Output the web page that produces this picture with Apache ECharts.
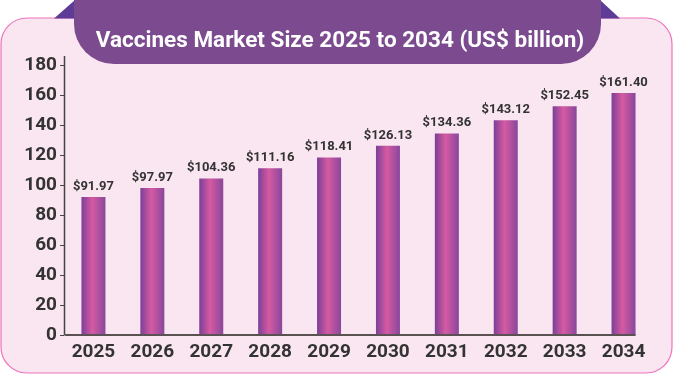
<!DOCTYPE html>
<html>
<head>
<meta charset="utf-8">
<script src="https://cdn.jsdelivr.net/npm/echarts@6/dist/echarts.min.js"></script>
<style>
html,body{margin:0;padding:0;background:#ffffff;}
#chart{width:680px;height:379px;}
</style>
</head>
<body>
<div id="chart"></div>
<script>
var years = ['2025','2026','2027','2028','2029','2030','2031','2032','2033','2034'];
var marketSize = [91.97, 97.97, 104.36, 111.16, 118.41, 126.13, 134.36, 143.12, 152.45, 161.40];
var yTicks = [0, 20, 40, 60, 80, 100, 120, 140, 160, 180];
var titleText = 'Vaccines Market Size 2025 to 2034 (US$ billion)';

var FONT = 'Roboto';
var chart = echarts.init(document.getElementById('chart'), null, {renderer: 'canvas'});

var barGradient = new echarts.graphic.LinearGradient(0, 0, 1, 0, [
  {offset: 0, color: '#7b3f98'},
  {offset: 0.45, color: '#d65aa2'},
  {offset: 1, color: '#88479c'}
]);

var option = {
  backgroundColor: '#ffffff',
  animation: false,
  title: {
    text: titleText,
    left: 'center',
    top: 25,
    textStyle: {color: '#ffffff', fontFamily: FONT, fontWeight: 'bold', fontSize: 22.5}
  },
  grid: {left: 64, right: 27, top: 65, bottom: 44, containLabel: false},
  xAxis: {
    type: 'category',
    data: years,
    axisLine: {show: false},
    axisTick: {show: false},
    axisLabel: {color: '#333333', fontFamily: FONT, fontWeight: 'bold', fontSize: 19, margin: 8}
  },
  yAxis: {
    type: 'value',
    min: 0,
    max: yTicks[yTicks.length - 1],
    interval: 20,
    splitLine: {show: false},
    axisLine: {show: false},
    axisTick: {show: true, length: 4, lineStyle: {color: '#444444', width: 1}},
    axisLabel: {color: '#333333', fontFamily: FONT, fontWeight: 'bold', fontSize: 19, margin: 7}
  },
  series: [{
    type: 'bar',
    data: marketSize,
    barWidth: 24,
    itemStyle: {color: barGradient},
    label: {
      show: true,
      position: 'top',
      distance: 4,
      color: '#333333',
      fontFamily: FONT,
      fontWeight: 'bold',
      fontSize: 13,
      formatter: function (p) { return '$' + p.value.toFixed(2); }
    }
  }]
};
chart.setOption(option);

// decorative background, banner and axis lines, positioned from the chart's scales
var origin = chart.convertToPixel({gridIndex: 0}, [years[0], 0]);
var lastBar = chart.convertToPixel({gridIndex: 0}, [years[years.length - 1], 0]);
var topPx = chart.convertToPixel({gridIndex: 0}, [years[0], yTicks[yTicks.length - 1]]);
var yAxisX = 64.5;
var xEnd = lastBar[0] + 12;

chart.setOption({
  graphic: [
    {type: 'rect', z: -10, silent: true,
     shape: {x: 1, y: 18, width: 671, height: 355, r: 26},
     style: {fill: '#fae6f0', stroke: '#ef72bb', lineWidth: 1.2}},
    {type: 'polygon', z: -9, silent: true,
     shape: {points: [[54, 18.5], [75, 0], [75, 18.5]]},
     style: {fill: '#5e3c96'}},
    {type: 'polygon', z: -9, silent: true,
     shape: {points: [[600, 0], [620, 18.5], [600, 18.5]]},
     style: {fill: '#5e3c96'}},
    {type: 'rect', z: -8, silent: true,
     shape: {x: 74, y: -40, width: 527, height: 104, r: [0, 0, 40, 40]},
     style: {fill: '#7b4a8f'}},
    {type: 'line', z: 5, silent: true,
     shape: {x1: yAxisX, y1: topPx[1] - 9, x2: yAxisX, y2: origin[1]},
     style: {stroke: '#444444', lineWidth: 1.5}},
    {type: 'line', z: 5, silent: true,
     shape: {x1: yAxisX, y1: origin[1], x2: xEnd, y2: origin[1]},
     style: {stroke: '#5a5252', lineWidth: 2}}
  ]
});
</script>
</body>
</html>
